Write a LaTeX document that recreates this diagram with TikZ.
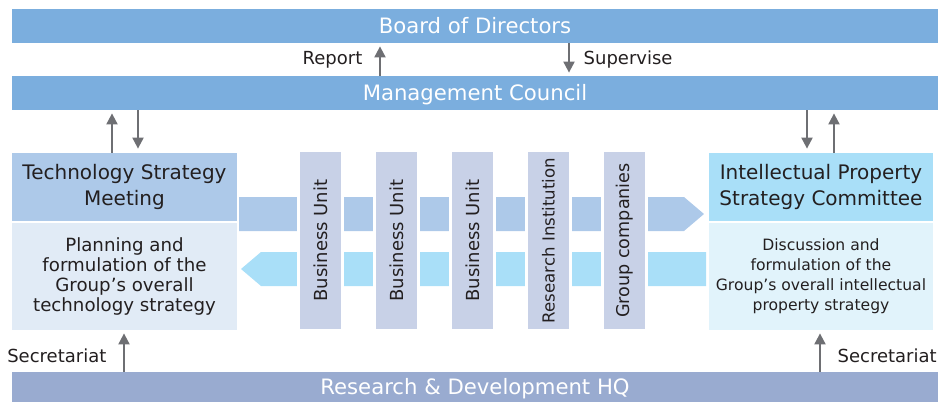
\documentclass[tikz,border=0pt]{standalone}
\usepackage{fontspec}
\setmainfont{DejaVu Sans}
\usetikzlibrary{arrows.meta}

\definecolor{barblue}{HTML}{7BAEDE}
\definecolor{rndblue}{HTML}{99ABD0}
\definecolor{techhead}{HTML}{ADC9E9}
\definecolor{techbody}{HTML}{E1EBF6}
\definecolor{iphead}{HTML}{A9DFF8}
\definecolor{ipbody}{HTML}{E1F3FB}
\definecolor{unitblue}{HTML}{C8D1E7}
\definecolor{arrgray}{HTML}{6E6F73}
\definecolor{ink}{HTML}{231F20}

\tikzset{
  bar/.style={fill=barblue, text=white, minimum width=463pt, minimum height=17pt,
    inner sep=0pt, text height=0.73em, text depth=0pt, font=\fontsize{10.6}{13}\selectfont},
  head/.style={minimum width=112.5pt, minimum height=34pt, inner sep=0pt,
    align=center, text=ink, font=\fontsize{10}{13.3}\selectfont},
  body/.style={minimum width=112.5pt, minimum height=53.5pt, inner sep=0pt,
    align=center, text=ink},
  unit/.style={fill=unitblue, draw=white, line width=1.5pt, rotate=90,
    minimum width=90pt, minimum height=22pt, inner sep=0pt, text=ink},
  arr/.style={draw=arrgray, line width=1pt, -{Triangle[width=5.5pt,length=5.5pt]}},
  lab/.style={text=ink, font=\fontsize{9}{11}\selectfont},
}

\begin{document}
\begin{tikzpicture}[x=0.5pt, y=-0.5pt]
\useasboundingbox (0,0) rectangle (939,403);

% top and bottom bars
\node [bar] (board) at (475,26) {Board of Directors};
\node [bar] (mgmt) at (475,93) {Management Council};
\node [bar, fill=rndblue, minimum height=15pt] (rnd) at (475,387) {Research \& Development HQ};

% the two meetings
\node [head, fill=techhead] (tech) at (124.5,187) {Technology Strategy\\Meeting};
\node [body, fill=techbody, font=\fontsize{9.1}{10}\selectfont] (techtxt) at (124.5,276.5)
  {Planning and\\formulation of the\\Group’s overall\\technology strategy};
\node [head, fill=iphead, minimum width=112pt] (ip) at (821,187) {Intellectual Property\\Strategy Committee};
\node [body, fill=ipbody, minimum width=112pt, font=\fontsize{7.8}{10}\selectfont] (iptxt) at (821,276.5)
  {Discussion and\\formulation of the\\Group’s overall intellectual\\property strategy};

% wide arrows through the units
\fill [techhead] (239,197) -- (684,197) -- (704,214) -- (684,231) -- (239,231) -- cycle;
\fill [iphead] (706,252) -- (261,252) -- (241,269) -- (261,286) -- (706,286) -- cycle;

\foreach \x/\name/\fs/\txt in {320.5/bu1/9/Business Unit, 396.5/bu2/9/Business Unit,
    472.5/bu3/9/Business Unit, 548.5/ri/8.3/Research Institution, 624.5/gc/8.8/Group companies}
  \node [unit, font=\fontsize{\fs}{10}\selectfont] (\name) at (\x,240.5) {\txt};

% arrow columns
\coordinate (rep) at (380,0);
\coordinate (sup) at (569,0);
\coordinate (tu) at (112,0);
\coordinate (td) at (138,0);
\coordinate (id) at (807,0);
\coordinate (iu) at (834,0);
\coordinate (sl) at (124,0);
\coordinate (sr) at (820,0);

\draw [arr, shorten >=1.5pt] (mgmt.north -| rep) -- node [lab, left=5pt] (replab) {Report} (board.south -| rep);
\draw [arr, shorten >=1.5pt] (board.south -| sup) -- node [lab, right=3.5pt] (suplab) {Supervise} (mgmt.north -| sup);

\draw [arr, shorten >=1.5pt] (tech.north -| tu) -- (mgmt.south -| tu);
\draw [arr, shorten >=2pt] (mgmt.south -| td) -- (tech.north -| td);
\draw [arr, shorten >=2pt] (mgmt.south -| id) -- (ip.north -| id);
\draw [arr, shorten >=1.5pt] (ip.north -| iu) -- (mgmt.south -| iu);

\draw [arr, shorten >=1.5pt] (rnd.north -| sl) -- node [lab, left=5pt, pos=0.38] (seclab1) {Secretariat} (techtxt.south -| sl);
\draw [arr, shorten >=1.5pt] (rnd.north -| sr) -- node [lab, right=5pt, pos=0.38] (seclab2) {Secretariat} (iptxt.south -| sr);
\end{tikzpicture}
\end{document}
